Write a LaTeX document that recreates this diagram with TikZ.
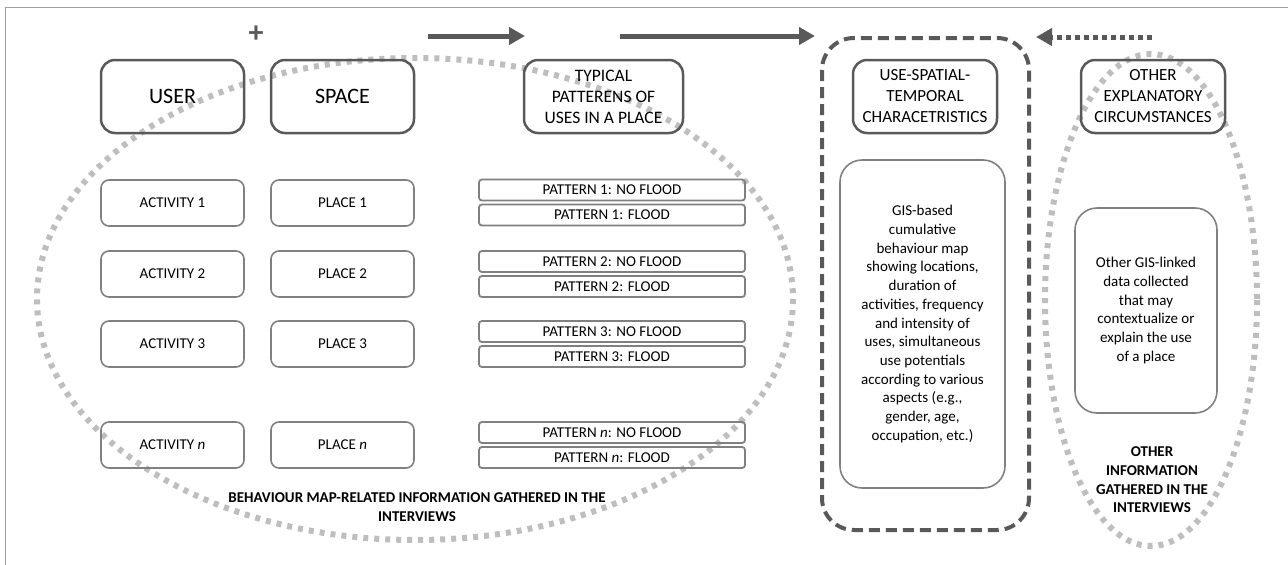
\documentclass[tikz,border=0pt]{standalone}
\usepackage{fontspec}
\setmainfont{Carlito}
\usetikzlibrary{arrows.meta}
\definecolor{boxgrey}{RGB}{89,89,89}
\definecolor{rowgrey}{RGB}{128,128,128}
\definecolor{ringgrey}{RGB}{190,190,190}
\definecolor{framegrey}{RGB}{160,160,160}
\begin{document}
\begin{tikzpicture}[x=1pt,y=1pt,yscale=-1,xscale=1,
  headbox/.style={draw=boxgrey,line width=2.5pt,rounded corners=14pt,align=center,inner sep=2pt},
  rowbox/.style={draw=rowgrey,line width=1.6pt,rounded corners=8pt,minimum width=143pt,minimum height=46pt,font=\fontsize{15}{18.7}\selectfont},
  patbox/.style={draw=rowgrey,line width=1.8pt,rounded corners=3pt,minimum width=266pt,minimum height=21pt,inner sep=0pt,font=\fontsize{15}{18.7}\selectfont},
  infobox/.style={draw=rowgrey,line width=1.6pt,rounded corners=22pt,align=center,font=\fontsize{15}{18.7}\selectfont},
  dotring/.style={draw=ringgrey,line width=6pt,dash pattern=on 5pt off 6pt},
  flowarrow/.style={draw=boxgrey,line width=5pt,-{Triangle[length=16pt,width=17pt]}}]
\useasboundingbox (0,0) rectangle (1288,565);

%frame of the figure
\draw [framegrey,line width=1pt] (5,565) -- (5,7) -- (1288,7);

%dotted rings
\draw [dotring] (415,299) ellipse [x radius=378, y radius=241];
\draw [dotring] (1151,300) ellipse [x radius=106, y radius=246];

%dashed frame round the use-spatial-temporal column
\draw [boxgrey,line width=4pt,dash pattern=on 11pt off 6pt,rounded corners=32pt] (822,38) rectangle (1029,530);

%header boxes
\node [headbox,minimum width=143pt,minimum height=73pt,font=\fontsize{22}{26}\selectfont] (user) at (172.5,96.5) {USER};
\node [headbox,minimum width=143pt,minimum height=73pt,font=\fontsize{22}{26}\selectfont] (space) at (342.5,96.5) {SPACE};
\node [headbox,minimum width=159pt,minimum height=73pt,font=\fontsize{17.5}{21}\selectfont] (typical) at (603.5,96.5) {TYPICAL\\PATTERENS OF\\USES IN A PLACE};
\node [headbox,minimum width=144pt,minimum height=73pt,font=\fontsize{17}{21}\selectfont] (usechar) at (925,96.5) {USE-SPATIAL-\\TEMPORAL\\CHARACETRISTICS};
\node [headbox,minimum width=144pt,minimum height=73pt,font=\fontsize{17}{21}\selectfont] (other) at (1153,96.5) {OTHER\\EXPLANATORY\\CIRCUMSTANCES};

% Text Node
\node [font=\fontsize{30}{30}\selectfont\bfseries,text=boxgrey] (plus) at (256,34) {+};

%arrows along the top
\coordinate (a1s) at (428,36);
\coordinate (a1e) at (525,36);
\coordinate (a2s) at (620,36);
\coordinate (a2e) at (815,36);
\coordinate (a3s) at (1152,37);
\coordinate (a3e) at (1036,37);
\draw [flowarrow] (a1s) -- (a1e);
\draw [flowarrow] (a2s) -- (a2e);
\draw [draw=boxgrey,line width=5pt,dash pattern=on 5pt off 4pt,-{Triangle[length=16pt,width=17pt]}] (a3s) -- (a3e);

%rows of activities, places and patterns
\node [rowbox] (act1) at (172.5,203) {ACTIVITY 1};
\node [rowbox] (act2) at (172.5,274) {ACTIVITY 2};
\node [rowbox] (act3) at (172.5,344) {ACTIVITY 3};
\node [rowbox] (actn) at (172.5,445) {ACTIVITY \textit{n}};
\node [rowbox] (pl1) at (342.5,203) {PLACE 1};
\node [rowbox] (pl2) at (342.5,274) {PLACE 2};
\node [rowbox] (pl3) at (342.5,344) {PLACE 3};
\node [rowbox] (pln) at (342.5,445) {PLACE \textit{n}};
\node [patbox] (pat1a) at (612,190) {PATTERN 1: NO FLOOD};
\node [patbox] (pat1b) at (612,215) {PATTERN 1: FLOOD};
\node [patbox] (pat2a) at (612,261.5) {PATTERN 2: NO FLOOD};
\node [patbox] (pat2b) at (612,286.5) {PATTERN 2: FLOOD};
\node [patbox] (pat3a) at (612,331.5) {PATTERN 3: NO FLOOD};
\node [patbox] (pat3b) at (612,356.5) {PATTERN 3: FLOOD};
\node [patbox] (patna) at (612,432.5) {PATTERN \textit{n}: NO FLOOD};
\node [patbox] (patnb) at (612,457.5) {PATTERN \textit{n}: FLOOD};

%information boxes
\node [infobox,minimum width=165pt,minimum height=328pt] (gismap) at (922.5,324) {GIS-based\\cumulative\\behaviour map\\showing locations,\\duration of\\activities, frequency\\and intensity of\\uses, simultaneous\\use potentials\\according to various\\aspects (e.g.,\\gender, age,\\occupation, etc.)};
\node [infobox,minimum width=142pt,minimum height=205pt] (gisother) at (1146,310.5) {Other GIS-linked\\data collected\\that may\\contextualize or\\explain the use\\of a place};

% Text Node
\node [align=center,font=\fontsize{15}{18.7}\selectfont\bfseries] (behavlabel) at (417,507) {BEHAVIOUR MAP-RELATED INFORMATION GATHERED IN THE\\INTERVIEWS};
% Text Node
\node [align=center,font=\fontsize{15}{18.7}\selectfont\bfseries] (otherlabel) at (1152,480) {OTHER\\INFORMATION\\GATHERED IN THE\\INTERVIEWS};
\end{tikzpicture}
\end{document}
